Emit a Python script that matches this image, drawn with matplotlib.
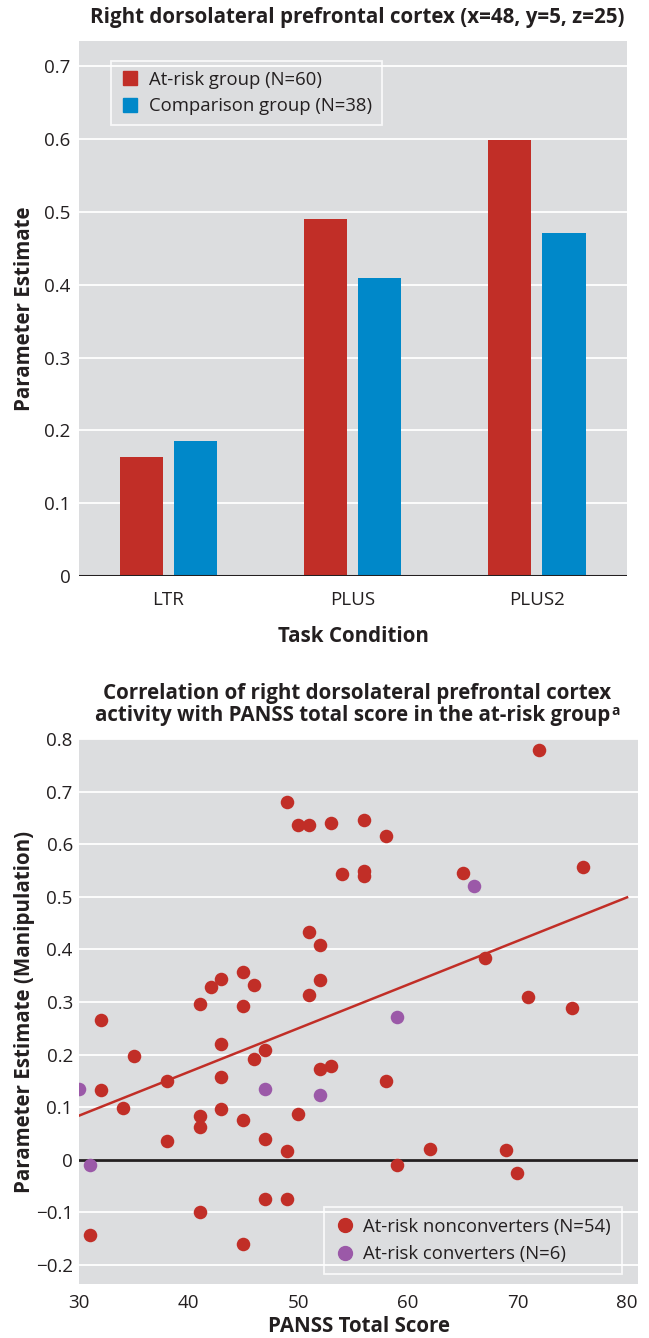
import numpy as np
import matplotlib
matplotlib.use("Agg")
import matplotlib.pyplot as plt
from matplotlib.lines import Line2D

plt.rcParams['font.family'] = ['Open Sans', 'DejaVu Sans']

# ---------------- data ----------------
conditions = ['LTR', 'PLUS', 'PLUS2']
atrisk_vals = [0.163, 0.491, 0.599]
comparison_vals = [0.185, 0.409, 0.471]

bar_yticks = [0, 0.1, 0.2, 0.3, 0.4, 0.5, 0.6, 0.7]
bar_yticklabels = ['0', '0.1', '0.2', '0.3', '0.4', '0.5', '0.6', '0.7']

nonconv_panss = [49, 50, 51, 53, 56, 58, 54, 56, 56, 65, 72, 76, 51, 52, 52, 51, 67, 71, 75,
                 32, 41, 42, 43, 45, 46, 45, 35, 32, 34, 38, 38, 31, 41, 41, 41, 43, 43, 43,
                 45, 45, 46, 47, 47, 47, 49, 49, 50, 52, 53, 58, 59, 62, 69, 70]
nonconv_est = [0.681, 0.636, 0.636, 0.640, 0.646, 0.615, 0.544, 0.550, 0.540, 0.546, 0.779,
               0.556, 0.433, 0.408, 0.341, 0.314, 0.383, 0.309, 0.288,
               0.265, 0.297, 0.329, 0.343, 0.358, 0.333, 0.293, 0.198, 0.133, 0.099, 0.149,
               0.035, -0.143, 0.084, 0.063, -0.100, 0.221, 0.158, 0.097,
               0.076, -0.160, 0.191, 0.208, 0.039, -0.075, 0.017, -0.075, 0.087, 0.173,
               0.179, 0.150, -0.009, 0.020, 0.019, -0.025]
conv_panss = [66, 59, 30, 31, 47, 52]
conv_est = [0.521, 0.272, 0.134, -0.009, 0.135, 0.123]

fit_x = [30, 80]
fit_y = [0.084, 0.499]

scat_xticks = [30, 40, 50, 60, 70, 80]
scat_yticks = [-0.2, -0.1, 0, 0.1, 0.2, 0.3, 0.4, 0.5, 0.6, 0.7, 0.8]
scat_yticklabels = ['\u22120.2', '\u22120.1', '0', '0.1', '0.2', '0.3', '0.4', '0.5', '0.6', '0.7', '0.8']

# ---------------- style ----------------
RED = '#C12E27'
BLUE = '#0088C9'
PURPLE = '#9B59A8'
BG = '#DCDDDF'
TXT = '#231F20'
LAB = 14.8
TICK = 13.5
LEG = 13.3

W, H = 649, 1338
fig = plt.figure(figsize=(W / 100, H / 100), dpi=100)


def rect(l, t, r, b):
    return [l / W, 1 - b / H, (r - l) / W, (b - t) / H]


def style(ax):
    ax.set_facecolor(BG)
    for s in ax.spines.values():
        s.set_visible(False)
    ax.tick_params(length=0, labelsize=TICK, colors=TXT)
    ax.set_axisbelow(True)
    ax.grid(axis='y', color='white', linewidth=1.3)
    ax.grid(axis='x', visible=False)


def style_legend(leg):
    fr = leg.get_frame()
    fr.set_facecolor('none')
    fr.set_edgecolor('white')
    fr.set_linewidth(1.3)
    for t in leg.get_texts():
        t.set_color(TXT)


# ---------------- bar chart ----------------
ax1 = fig.add_axes(rect(79, 41, 627, 576))
style(ax1)
x = np.arange(len(conditions))
ax1.bar(x - 0.147, atrisk_vals, 0.234, color=RED, zorder=2)
ax1.bar(x + 0.147, comparison_vals, 0.234, color=BLUE, zorder=2)
ax1.axhline(0, color=TXT, linewidth=2.2, zorder=3)
ax1.set_xlim(-0.486, 2.489)
ax1.set_ylim(0, 0.735)
ax1.set_xticks(x)
ax1.set_xticklabels(conditions)
ax1.set_yticks(bar_yticks)
ax1.set_yticklabels(bar_yticklabels)
ax1.tick_params(axis='y', pad=6)
ax1.tick_params(axis='x', pad=11)
ax1.set_ylabel('Parameter Estimate', fontsize=LAB, fontweight='bold', color=TXT)
ax1.yaxis.set_label_coords((35 - 79) / 548, 0.5)
ax1.set_xlabel('Task Condition', fontsize=LAB, fontweight='bold', color=TXT, labelpad=12)
h1 = [Line2D([], [], marker='s', linestyle='none', markersize=10.5, color=RED),
      Line2D([], [], marker='s', linestyle='none', markersize=10.5, color=BLUE)]
leg1 = ax1.legend(h1, ['At-risk group (N=60)', 'Comparison group (N=38)'],
                  loc='upper left', bbox_to_anchor=(0.058, 0.963), borderaxespad=0,
                  fontsize=LEG, frameon=True, fancybox=False, handletextpad=0.5,
                  handlelength=1.0, labelspacing=0.45, borderpad=0.55)
style_legend(leg1)

fig.text(357 / W, 1 - 17 / H, 'Right dorsolateral prefrontal cortex (x=48, y=5, z=25)',
         ha='center', va='center', fontsize=LAB, fontweight='bold', color=TXT)

# ---------------- scatter ----------------
ax2 = fig.add_axes(rect(79, 739, 638, 1284))
style(ax2)
ax2.plot(fit_x, fit_y, color=RED, linewidth=1.8, zorder=2)
ax2.axhline(0, color=TXT, linewidth=2.0, zorder=2)
ax2.scatter(nonconv_panss, nonconv_est, s=95, color=RED, linewidths=0, zorder=3)
ax2.scatter(conv_panss, conv_est, s=95, color=PURPLE, linewidths=0, zorder=3)
ax2.set_xlim(30, 81)
ax2.set_ylim(-0.236, 0.8)
ax2.set_xticks(scat_xticks)
ax2.set_yticks(scat_yticks)
ax2.set_yticklabels(scat_yticklabels)
ax2.tick_params(axis='y', pad=4.5)
ax2.tick_params(axis='x', pad=7)
ax2.set_ylabel('Parameter Estimate (Manipulation)', fontsize=LAB, fontweight='bold', color=TXT)
ax2.yaxis.set_label_coords((35 - 79) / 559, 0.5)
ax2.set_xlabel('PANSS Total Score', fontsize=LAB, fontweight='bold', color=TXT, labelpad=3)
h2 = [Line2D([], [], marker='o', linestyle='none', markersize=10, color=RED),
      Line2D([], [], marker='o', linestyle='none', markersize=10, color=PURPLE)]
leg2 = ax2.legend(h2, ['At-risk nonconverters (N=54)', 'At-risk converters (N=6)'],
                  loc='lower right', bbox_to_anchor=(0.971, 0.018), borderaxespad=0,
                  fontsize=LEG, frameon=True, fancybox=False, handletextpad=0.5,
                  handlelength=1.0, labelspacing=0.5, borderpad=0.6)
style_legend(leg2)

fig.text(357 / W, 1 - 693 / H, 'Correlation of right dorsolateral prefrontal cortex',
         ha='center', va='center', fontsize=LAB, fontweight='bold', color=TXT)
t2 = fig.text(353 / W, 1 - 716 / H, 'activity with PANSS total score in the at-risk group',
              ha='center', va='center', fontsize=LAB, fontweight='bold', color=TXT)
fig.canvas.draw()
bb = t2.get_window_extent()
fig.text((bb.x1 + 1) / W, (bb.y1 - 10) / H, 'a', ha='left', va='baseline',
         fontsize=10, fontweight='bold', color=TXT)

fig.savefig('out.png', dpi=100)
